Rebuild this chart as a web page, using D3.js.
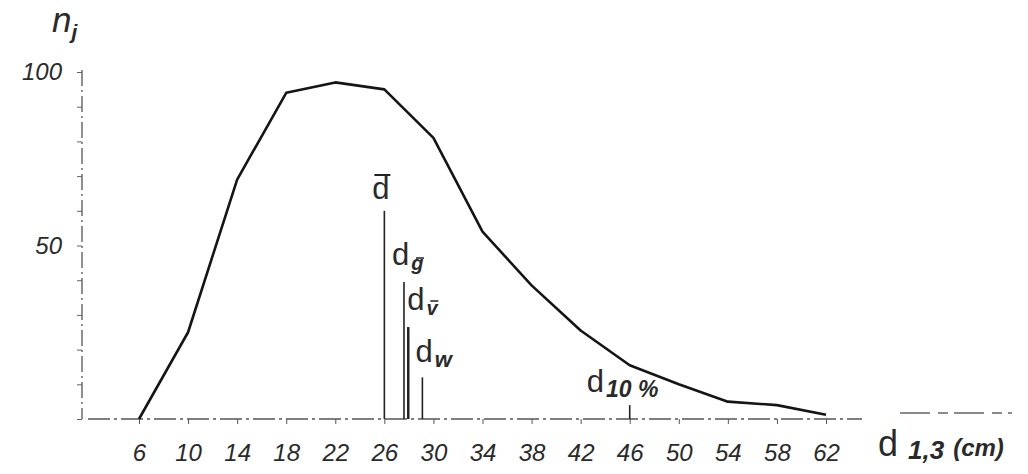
<!DOCTYPE html>
<html>
<head>
<meta charset="utf-8">
<script src="https://cdn.jsdelivr.net/npm/d3@7"></script>
<style>
  body { margin: 0; background: #fff; }
  text { font-family: "Liberation Sans", Arial, sans-serif; font-style: italic; fill: #2a2a2a; }
</style>
</head>
<body>
<script>
// diameter classes (cm) and tree counts per class
const diameters = [6, 10, 14, 18, 22, 26, 30, 34, 38, 42, 46, 50, 54, 58, 62];
const counts    = [0, 25, 69, 94, 97, 95, 81, 54, 38.5, 25.5, 15.5, 10, 5, 4, 1.2];

const yTickValues = [0, 10, 20, 30, 40, 50, 60, 70, 80, 90, 100];
const yTickLabels = [50, 100];

// characteristic diameters
const markNames = ["dbar", "dg", "dv", "dw", "d10"];
const markX     = [26, 27.6, 27.95, 29.1, 46];
const markH     = [60, 39.5, 26.5, 12, 4];

var width = 1028, height = 474;
var svg = d3.select("body").append("svg")
  .attr("width", width)
  .attr("height", height);

var x = d3.scaleLinear().domain([6, 62]).range([139, 826]);
var y = d3.scaleLinear().domain([0, 100]).range([419, 72]);

// x axis line (dash-dot like the photocopy)
svg.append("line")
  .attr("x1", 88).attr("x2", 862)
  .attr("y1", y(0)).attr("y2", y(0))
  .attr("stroke", "#555").attr("stroke-width", 1.3)
  .attr("stroke-dasharray", "22,4,3,4");
svg.append("line")
  .attr("x1", 900).attr("x2", 1012)
  .attr("y1", y(0) - 6).attr("y2", y(0) - 6)
  .attr("stroke", "#666").attr("stroke-width", 1.3)
  .attr("stroke-dasharray", "30,8,10,6");

var xAxis = svg.append("g")
  .attr("transform", "translate(0," + y(0) + ")")
  .call(d3.axisBottom(x).tickValues(diameters).tickSize(5).tickPadding(20));
xAxis.select(".domain").remove();
xAxis.selectAll(".tick line").attr("stroke", "#555");
xAxis.selectAll(".tick text")
  .style("font-size", "24px").style("font-style", "italic")
  .attr("fill", "#2a2a2a");

// y axis
svg.append("line")
  .attr("x1", x(6) - 57).attr("x2", x(6) - 57)
  .attr("y1", y(100) - 2).attr("y2", y(0))
  .attr("stroke", "#555").attr("stroke-width", 1.3)
  .attr("stroke-dasharray", "16,4,2,4");

var yAxis = svg.append("g")
  .attr("transform", "translate(" + (x(6) - 57) + ",0)")
  .call(d3.axisLeft(y).tickValues(yTickValues).tickSize(5)
    .tickFormat(function(d) { return yTickLabels.indexOf(d) >= 0 ? d : ""; })
    .tickPadding(15));
yAxis.select(".domain").remove();
yAxis.selectAll(".tick line").attr("stroke", "#666");
yAxis.selectAll(".tick text")
  .style("font-size", "24px").style("font-style", "italic")
  .attr("fill", "#2a2a2a");

// frequency curve
var line = d3.line()
  .x(function(d, i) { return x(diameters[i]); })
  .y(function(d) { return y(d); });

svg.append("path")
  .datum(counts)
  .attr("d", line)
  .attr("fill", "none")
  .attr("stroke", "#151515")
  .attr("stroke-width", 2.6)
  .attr("stroke-linejoin", "round");

// vertical marker lines
svg.selectAll(".mark")
  .data(markNames)
  .enter().append("line")
  .attr("class", "mark")
  .attr("x1", function(d, i) { return x(markX[i]); })
  .attr("x2", function(d, i) { return x(markX[i]); })
  .attr("y1", y(0))
  .attr("y2", function(d, i) { return y(markH[i]); })
  .attr("stroke", "#222")
  .attr("stroke-width", function(d, i) { return i == 2 ? 2.5 : 1.6; });

// marker labels
function label(px, py, main, sub, subSize) {
  var t = svg.append("text").attr("x", px).attr("y", py)
    .style("font-size", "31px").style("font-style", "normal").style("font-weight", "300");
  t.append("tspan").text(main);
  if (sub) {
    t.append("tspan").attr("dx", 2).attr("dy", 5).style("font-size", subSize + "px")
      .style("font-style", "italic").style("font-weight", "bold").text(sub);
  }
  return t;
}

// d bar
label(x(26) - 12, 199, "d");
svg.append("line").attr("x1", x(26) - 10).attr("x2", x(26) + 6)
  .attr("y1", 175).attr("y2", 175).attr("stroke", "#222").attr("stroke-width", 2);

label(x(27.6) - 12, 265, "d", "g", 20);
svg.append("line").attr("x1", x(27.6) + 12).attr("x2", x(27.6) + 20)
  .attr("y1", 258).attr("y2", 258).attr("stroke", "#222").attr("stroke-width", 1.5);

label(x(27.95) - 1, 310, "d", "v", 20);
svg.append("line").attr("x1", x(27.95) + 22).attr("x2", x(27.95) + 30)
  .attr("y1", 301).attr("y2", 301).attr("stroke", "#222").attr("stroke-width", 1.5);

label(x(29.1) - 7, 362, "d", "w", 22);

label(x(46) - 43, 392, "d", "10 %", 23);

// axis titles
var nj = svg.append("text").attr("x", 52).attr("y", 32)
  .style("font-size", "35px");
nj.append("tspan").text("n");
nj.append("tspan").attr("dy", 7).style("font-size", "21px").style("font-weight", "bold").text("j");

var dl = svg.append("text").attr("x", 878).attr("y", 456)
  .style("font-size", "36px").style("font-style", "normal").style("font-weight", "300");
dl.append("tspan").text("d");
dl.append("tspan").attr("dx", 10).attr("dy", 3).style("font-size", "26px")
  .style("font-style", "italic").style("font-weight", "bold").text("1,3");
dl.append("tspan").attr("dx", 9).attr("dy", -3).style("font-size", "24px")
  .style("font-style", "italic").style("font-weight", "bold").text("(cm)");
</script>
</body>
</html>
